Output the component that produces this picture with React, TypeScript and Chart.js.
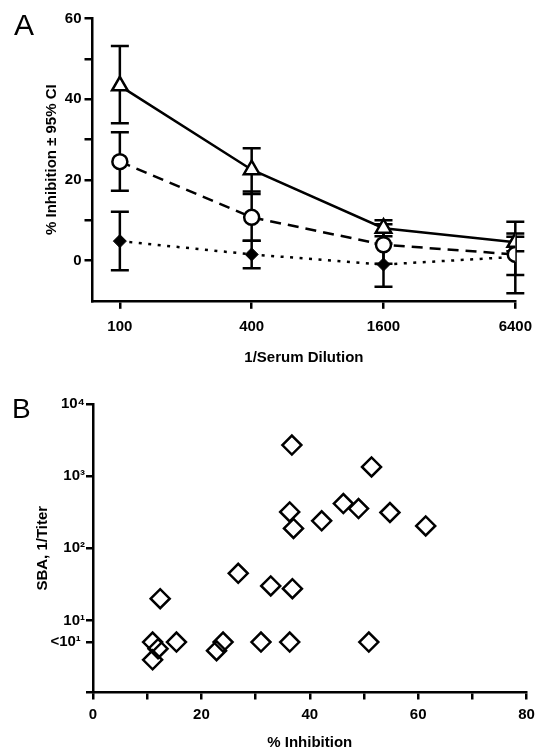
import React, { useEffect, useRef } from 'react';
import { Chart, registerables } from 'chart.js';

Chart.register(...registerables);

const FONT = "'Liberation Sans', Arial, Helvetica, sans-serif";

// ---------- Panel A data ----------
const dilutions = [100, 400, 1600, 6400];
const dilutionTickLabels = ['100', '400', '1600', '6400'];
const inhibitionTickLabels = ['0', '20', '40', '60'];

const triangleMean = [43.3, 22.5, 8.0, 4.5];
const triangleLow = [34.0, 16.5, 6.0, 2.3];
const triangleHigh = [53.2, 27.8, 10.0, 6.7];

const circleMean = [24.5, 10.7, 3.9, 1.5];
const circleLow = [17.3, 4.9, -0.8, -3.6];
const circleHigh = [31.8, 17.1, 9.0, 5.9];

const diamondMean = [4.8, 1.5, -1.0, 0.9];
const diamondLow = [-2.4, -1.9, -6.5, -8.1];
const diamondHigh = [12.1, 4.9, 4.2, 9.6];

// ---------- Panel B data ----------
const percentInhibition = [36.7, 51.4, 46.2, 49.0, 54.8, 36.3, 42.2, 61.4, 37.0, 26.8, 32.8, 36.8, 12.4, 11.0, 15.4, 24.0, 31.0, 36.3, 50.9, 22.8, 12.0, 11.0];
const sbaTiter = [2700, 1340, 417, 355, 313, 319, 240, 204, 188, 45, 30, 27.5, 20, 5, 5, 5, 5, 5, 5, 3.8, 4.05, 2.84];
const titerTickValues = [1, 5, 10, 100, 1000, 10000];
const titerTickLabels = ['', '<10\u00B9 ', '10\u00B9', '10\u00B2', '10\u00B3', '10\u2074'];
const inhibitionXTickLabels = ['0', '20', '40', '60', '80'];

const errorGroups = [
  { low: triangleLow, high: triangleHigh },
  { low: circleLow, high: circleHigh },
  { low: diamondLow, high: diamondHigh },
];

const errorBarPlugin = {
  id: 'errorBarsA',
  beforeDatasetsDraw(chart: any) {
    const { ctx } = chart;
    const xs = chart.scales.x;
    const ys = chart.scales.y;
    ctx.save();
    ctx.strokeStyle = '#000';
    ctx.lineWidth = 2.5;
    ctx.lineCap = 'butt';
    errorGroups.forEach((g) => {
      g.low.forEach((lo, i) => {
        const px = xs.getPixelForValue(dilutions[i]);
        const p1 = ys.getPixelForValue(lo);
        const p2 = ys.getPixelForValue(g.high[i]);
        ctx.beginPath();
        ctx.moveTo(px, p1);
        ctx.lineTo(px, p2);
        ctx.moveTo(px - 9, p1);
        ctx.lineTo(px + 9, p1);
        ctx.moveTo(px - 9, p2);
        ctx.lineTo(px + 9, p2);
        ctx.stroke();
      });
    });
    ctx.restore();
  },
};

const axisGrid = (len: number) => ({
  display: true,
  drawOnChartArea: false,
  drawTicks: true,
  tickLength: len,
  lineWidth: 2.5,
  color: '#000',
  tickColor: '#000',
});
const axisBorder = { display: true, color: '#000', width: 2.5 };
const tickFont = { family: FONT, size: 15, weight: 'bold' as const };
const titleFont = { family: FONT, size: 15, weight: 'bold' as const, lineHeight: 1.2 };

function PanelA() {
  const ref = useRef<HTMLCanvasElement>(null);
  useEffect(() => {
    if (!ref.current) return;
    const mk = (vals: number[]) => dilutions.map((d, i) => ({ x: d, y: vals[i] }));
    const chart = new Chart(ref.current, {
      type: 'line',
      data: {
        datasets: [
          {
            data: mk(triangleMean),
            borderColor: '#000',
            borderWidth: 2.5,
            pointStyle: 'triangle',
            pointRadius: 9,
            pointBackgroundColor: '#fff',
            pointBorderColor: '#000',
            pointBorderWidth: 2.5,
            fill: false,
            tension: 0,
          },
          {
            data: mk(circleMean),
            borderColor: '#000',
            borderWidth: 2.5,
            borderDash: [11, 7],
            pointStyle: 'circle',
            pointRadius: 7.5,
            pointBackgroundColor: '#fff',
            pointBorderColor: '#000',
            pointBorderWidth: 2.5,
            fill: false,
            tension: 0,
          },
          {
            data: mk(diamondMean),
            borderColor: '#000',
            borderWidth: 2.5,
            borderDash: [3, 6.5],
            pointStyle: 'rectRot',
            pointRadius: 6.5,
            pointBackgroundColor: '#000',
            pointBorderColor: '#000',
            pointBorderWidth: 1,
            fill: false,
            tension: 0,
          },
        ],
      },
      options: {
        responsive: false,
        animation: false,
        events: [],
        layout: { padding: { top: 18.5, right: 23, left: 0, bottom: 0 } },
        plugins: { legend: { display: false }, tooltip: { enabled: false } },
        scales: {
          x: {
            type: 'logarithmic',
            min: 75,
            max: 6400,
            afterBuildTicks: (axis: any) => {
              axis.ticks = dilutions.map((v) => ({ value: v }));
            },
            afterFit: (axis: any) => {
              axis.height = 380 - 300.8;
            },
            grid: axisGrid(8),
            border: axisBorder,
            ticks: {
              autoSkip: false,
              maxRotation: 0,
              padding: 9,
              color: '#000',
              font: tickFont,
              callback: (v: any) => {
                const idx = dilutions.indexOf(Number(v));
                return idx >= 0 ? dilutionTickLabels[idx] : null;
              },
            },
            title: {
              display: true,
              text: '1/Serum Dilution',
              color: '#000',
              font: titleFont,
              padding: { top: 0, bottom: 13 },
            },
          },
          y: {
            type: 'linear',
            min: -10,
            max: 60,
            afterFit: (axis: any) => {
              axis.width = 92.5;
            },
            grid: axisGrid(8),
            border: axisBorder,
            ticks: {
              stepSize: 10,
              padding: 3,
              color: '#000',
              font: tickFont,
              callback: (v: any) => {
                const n = Number(v);
                if (n < 0) return null;
                const idx = inhibitionTickLabels.indexOf(String(n));
                return idx >= 0 ? inhibitionTickLabels[idx] : '';
              },
            },
            title: {
              display: true,
              text: '% Inhibition \u00B1 95% CI',
              color: '#000',
              font: titleFont,
              padding: { top: 42.5, bottom: 0 },
            },
          },
        },
      },
      plugins: [errorBarPlugin],
    } as any);
    return () => chart.destroy();
  }, []);
  return <canvas ref={ref} width={541} height={380} style={{ position: 'absolute', left: 0, top: 0, width: 541, height: 380 }} />;
}

function PanelB() {
  const ref = useRef<HTMLCanvasElement>(null);
  useEffect(() => {
    if (!ref.current) return;
    const chart = new Chart(ref.current, {
      type: 'scatter',
      data: {
        datasets: [
          {
            data: percentInhibition.map((x, i) => ({ x, y: sbaTiter[i] })),
            pointStyle: 'rectRot',
            pointRadius: 9.5,
            pointBackgroundColor: 'rgba(0,0,0,0)',
            pointBorderColor: '#000',
            pointBorderWidth: 2.5,
          },
        ],
      },
      options: {
        responsive: false,
        animation: false,
        events: [],
        layout: { padding: { top: 24, right: 14.5, left: 0, bottom: 0 } },
        plugins: { legend: { display: false }, tooltip: { enabled: false } },
        scales: {
          x: {
            type: 'linear',
            min: 0,
            max: 80,
            afterFit: (axis: any) => {
              axis.height = 372 - 312.5;
            },
            grid: axisGrid(7),
            border: axisBorder,
            ticks: {
              stepSize: 10,
              autoSkip: false,
              maxRotation: 0,
              padding: 6,
              color: '#000',
              font: tickFont,
              callback: (v: any) => {
                const idx = inhibitionXTickLabels.indexOf(String(v));
                return idx >= 0 ? inhibitionXTickLabels[idx] : '';
              },
            },
            title: {
              display: true,
              text: '% Inhibition',
              color: '#000',
              font: titleFont,
              padding: { top: 0, bottom: 0 },
            },
          },
          y: {
            type: 'logarithmic',
            min: 1,
            max: 10000,
            afterBuildTicks: (axis: any) => {
              axis.ticks = titerTickValues.map((v) => ({ value: v }));
            },
            afterFit: (axis: any) => {
              axis.width = 93;
            },
            grid: axisGrid(7),
            border: axisBorder,
            ticks: {
              autoSkip: false,
              padding: 1,
              color: '#000',
              font: { family: FONT, size: 15, weight: 'bold' },
              callback: (v: any) => {
                const idx = titerTickValues.indexOf(Number(v));
                return idx >= 0 ? titerTickLabels[idx] : null;
              },
            },
            title: {
              display: true,
              text: 'SBA, 1/Titer',
              color: '#000',
              font: titleFont,
              padding: { top: 34, bottom: 0 },
            },
          },
        },
      },
    } as any);
    return () => chart.destroy();
  }, []);
  return <canvas ref={ref} width={541} height={372} style={{ position: 'absolute', left: 0, top: 380, width: 541, height: 372 }} />;
}

export default function App() {
  const letter: React.CSSProperties = {
    position: 'absolute',
    fontFamily: FONT,
    color: '#000',
    margin: 0,
    padding: 0,
    whiteSpace: 'nowrap',
  };
  return (
    <div style={{ position: 'absolute', left: 0, top: 0, width: 541, height: 752, background: '#fff', overflow: 'hidden' }}>
      <PanelA />
      <PanelB />
      <div style={{ ...letter, left: 14, top: 10, fontSize: 30, lineHeight: '30px' }}>A</div>
      <div style={{ ...letter, left: 12, top: 395, fontSize: 28, lineHeight: '28px' }}>B</div>
    </div>
  );
}
